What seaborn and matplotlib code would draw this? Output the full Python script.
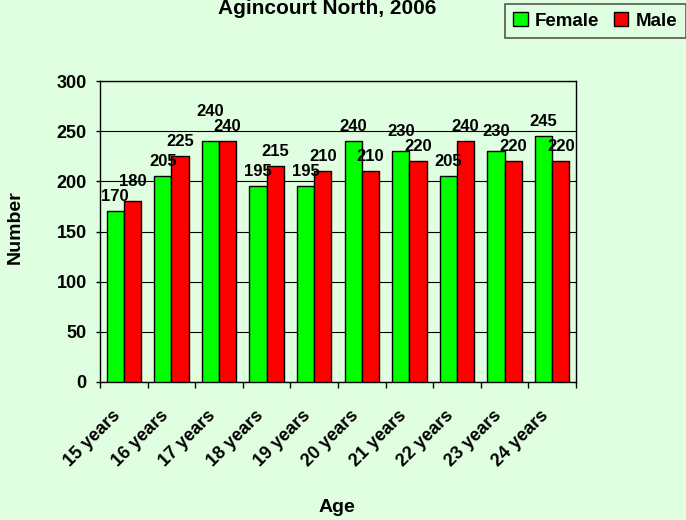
import numpy as np
import pandas as pd
import seaborn as sns
import matplotlib.pyplot as plt
import matplotlib.transforms as mtrans
from matplotlib.patches import Patch

ages = ['15 years', '16 years', '17 years', '18 years', '19 years',
        '20 years', '21 years', '22 years', '23 years', '24 years']
female = [170, 205, 240, 195, 195, 240, 230, 205, 230, 245]
male = [180, 225, 240, 215, 210, 210, 220, 240, 220, 220]

df = pd.DataFrame({
    'Age': ages * 2,
    'Number': female + male,
    'Sex': ['Female'] * len(ages) + ['Male'] * len(ages),
})

bg = '#E0FFE0'
sns.set_style('white')
plt.rcParams['font.family'] = ['Liberation Sans', 'DejaVu Sans']
plt.rcParams['font.weight'] = 'bold'
plt.rcParams['text.color'] = 'black'
plt.rcParams['xtick.color'] = 'black'
plt.rcParams['ytick.color'] = 'black'

fig = plt.figure(figsize=(6.86, 5.2), dpi=100, facecolor=bg)
ax = fig.add_axes([100 / 686, 1 - 382 / 520, 476 / 686, 301 / 520])
ax.set_facecolor(bg)

sns.barplot(data=df, x='Age', y='Number', hue='Sex', order=ages,
            palette={'Female': '#00FF00', 'Male': '#FF0000'}, saturation=1,
            width=0.72, gap=0, edgecolor='black', linewidth=1.0,
            legend=False, ax=ax, zorder=3)

# value labels: when the pair of labels would sit at about the same height,
# push the one of the taller bar (female if equal) up so they stack
pad, sep = 7, 15
f_bars, m_bars = ax.containers[0], ax.containers[1]
for fb, mb in zip(f_bars, m_bars):
    fh, mh = fb.get_height(), mb.get_height()
    fy, my = fh + pad, mh + pad
    if abs(fy - my) < sep:
        if mh > fh:
            my = fy + sep
        else:
            fy = my + sep
    for bar, y, h in ((fb, fy, fh), (mb, my, mh)):
        ax.text(bar.get_x() + bar.get_width() / 2, y, f'{h:.0f}',
                ha='center', va='bottom', fontsize=12, fontweight='bold',
                color='black', zorder=5)

ax.set_ylim(0, 300)
ax.set_xlim(-0.5, len(ages) - 0.5)
ax.set_yticks(range(0, 301, 50))
ax.yaxis.grid(True, color='black', linewidth=0.8)
ax.set_axisbelow(True)
for s in ax.spines.values():
    s.set_color('black')
    s.set_linewidth(1.0)

ax.tick_params(axis='y', length=3, width=1, pad=6.5, labelsize=13, direction='out', left=True)
ax.set_yticklabels([str(v) for v in range(0, 301, 50)], fontweight='bold')

ax.set_xticks(range(len(ages)))
ax.set_xticklabels(ages, rotation=45, ha='right', va='top',
                   rotation_mode='anchor', fontweight='bold')
ax.tick_params(axis='x', which='major', length=0, pad=18, labelsize=13)
ax.set_xticks(np.arange(-0.5, len(ages), 1), minor=True)
ax.tick_params(axis='x', which='minor', length=4, width=1, direction='out', bottom=True)

shift = mtrans.ScaledTranslation(-12 / 100, 0, fig.dpi_scale_trans)
for lbl in ax.get_xticklabels():
    lbl.set_transform(lbl.get_transform() + shift)

ax.set_xlabel('')
ax.set_ylabel('')

fig.text(327 / 686, 1 - 9 / 520, 'Agincourt North, 2006', ha='center', va='center',
         fontsize=15, fontweight='bold')
fig.text(15 / 686, 1 - 227 / 520, 'Number', rotation=90, ha='center', va='center',
         fontsize=14, fontweight='bold')
fig.text(337 / 686, 1 - 507 / 520, 'Age', ha='center', va='center',
         fontsize=14, fontweight='bold')

handles = [Patch(facecolor='#00FF00', edgecolor='black', label='Female'),
           Patch(facecolor='#FF0000', edgecolor='black', label='Male')]
leg = fig.legend(handles=handles, loc='upper right', bbox_to_anchor=(1.0, 1 - 4 / 520),
                 ncol=2, frameon=True, fancybox=False, framealpha=1,
                 handlelength=0.75, handleheight=0.75, handletextpad=0.4,
                 columnspacing=0.8, borderpad=0.45, borderaxespad=0,
                 prop={'size': 13.5, 'weight': 'bold'})
leg.get_frame().set_facecolor(bg)
leg.get_frame().set_edgecolor('#555555')
leg.get_frame().set_linewidth(1.2)

fig.savefig('out.png', dpi=100, facecolor=bg)
